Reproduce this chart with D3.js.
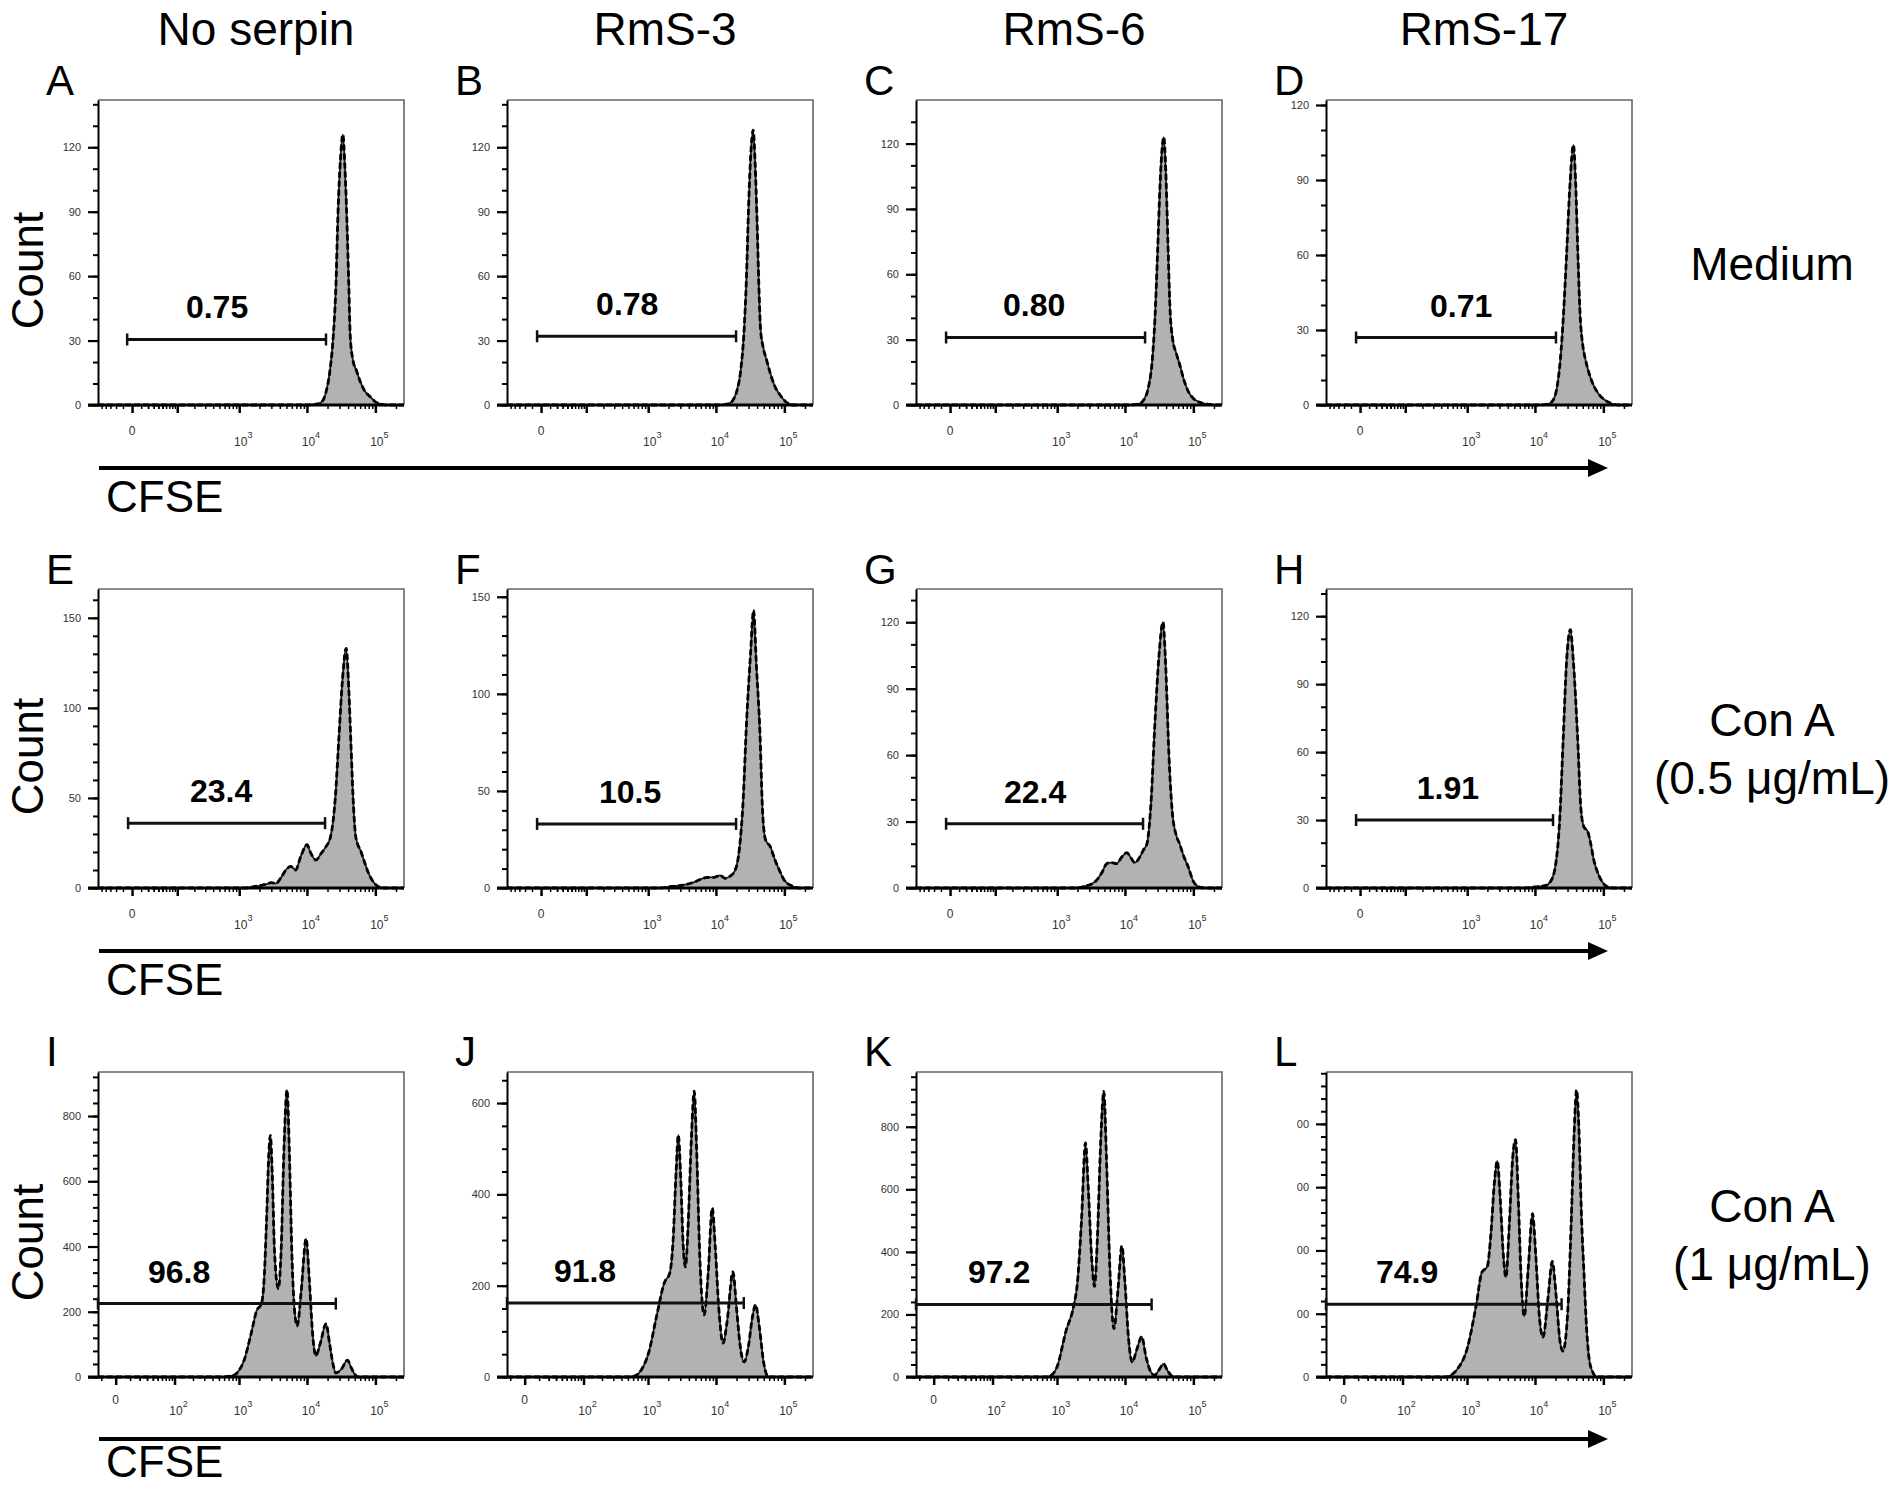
<!DOCTYPE html>
<html>
<head>
<meta charset="utf-8">
<script src="https://cdn.jsdelivr.net/npm/d3@7"></script>
<style>
  body { margin: 0; background: #fff; }
  text { font-family: Arial, 'Liberation Sans', sans-serif; }
</style>
</head>
<body>
<script>
const width = 1903
const height = 1490

// ---- data ----
const columnTitles = ['No serpin', 'RmS-3', 'RmS-6', 'RmS-17']
const rowTitles = [['Medium'], ['Con A', '(0.5 μg/mL)'], ['Con A', '(1 μg/mL)']]
const panelLetters = ['A', 'B', 'C', 'D', 'E', 'F', 'G', 'H', 'I', 'J', 'K', 'L']
const gatePercent = ['0.75', '0.78', '0.80', '0.71', '23.4', '10.5', '22.4', '1.91', '96.8', '91.8', '97.2', '74.9']

// gate range [low, high] on the CFSE axis, its count level, where its label sits (CFSE)
const gateRange = [
    [-5, 1.9e4], [-4, 1.97e4], [-4, 1.97e4], [-4, 2.03e4],
    [-4, 1.84e4], [-4, 1.97e4], [-4, 1.84e4], [-4, 1.84e4],
    [-13, 2.64e4], [-13, 2.55e4], [-13, 2.45e4], [-13, 2.45e4]
]
const gateLevel = [30.5, 32, 31, 27, 36, 33, 29, 30, 225, 162, 232, 230]
const gateLabelAt = [460, 480, 445, 810, 530, 530, 460, 510, 119, 106, 129, 119]

const countMax = [142, 142, 140, 122, 166, 154, 135, 132, 935, 668, 975, 964]
const countTicks = [
    [0, 30, 60, 90, 120], [0, 30, 60, 90, 120], [0, 30, 60, 90, 120], [0, 30, 60, 90, 120],
    [0, 50, 100, 150], [0, 50, 100, 150], [0, 30, 60, 90, 120], [0, 30, 60, 90, 120],
    [0, 200, 400, 600, 800], [0, 200, 400, 600], [0, 200, 400, 600, 800], [0, 200, 400, 600, 800]
]
const countMinorStep = [10, 10, 10, 10, 10, 10, 10, 10, 40, 50, 40, 40]

const cfseMajor = [0, 1e2, 1e3, 1e4, 1e5]
const cfseLabelExp = [[3, 4, 5], [3, 4, 5], [2, 3, 4, 5]]
const cfseMax = 262144

// histograms: [CFSE, count]
const histA = [[-60,0],[1.0e4,0],[1.45e4,0.5],[1.7e4,2],[1.9e4,6],[2.15e4,15],[2.4e4,30],[2.65e4,55],[2.85e4,90],[3.1e4,115],[3.35e4,126],[3.6e4,110],[3.85e4,85],[4.1e4,55],[4.3e4,32],[4.7e4,21],[5.3e4,16],[6.0e4,11],[7.0e4,6.5],[8.3e4,4],[1.0e5,1.5],[1.25e5,0.3],[1.5e5,0],[262144,0]]
const histB = [[-60,0],[1.1e4,0],[1.5e4,0.5],[1.75e4,2],[2.0e4,6],[2.3e4,16],[2.55e4,32],[2.8e4,60],[3.0e4,92],[3.25e4,118],[3.5e4,128],[3.75e4,112],[4.0e4,85],[4.25e4,55],[4.5e4,35],[4.9e4,27],[5.5e4,21],[6.2e4,15],[7.2e4,9],[8.5e4,5],[1.05e5,1.5],[1.35e5,0],[262144,0]]
const histC = [[-60,0],[1.2e4,0],[1.6e4,0.5],[1.9e4,2.5],[2.2e4,8],[2.5e4,20],[2.75e4,40],[3.0e4,70],[3.25e4,100],[3.5e4,118],[3.7e4,123],[3.95e4,108],[4.25e4,75],[4.55e4,45],[5.0e4,30],[5.6e4,24],[6.4e4,18],[7.2e4,12],[8.5e4,6],[1.0e5,3],[1.3e5,1],[1.7e5,0.3],[2.1e5,0],[262144,0]]
const histD = [[-60,0],[1.2e4,0],[1.6e4,0.5],[1.85e4,2],[2.1e4,7],[2.35e4,18],[2.6e4,35],[2.9e4,60],[3.25e4,88],[3.65e4,104],[3.95e4,88],[4.25e4,60],[4.6e4,35],[5.0e4,24],[5.5e4,18],[6.3e4,12],[7.3e4,7.5],[8.5e4,4.5],[1.05e5,2],[1.35e5,0.5],[1.65e5,0],[262144,0]]
const histE = [[-60,0],[1.2e3,0],[1.8e3,1],[2.5e3,2],[3.0e3,3],[3.5e3,2.5],[4.2e3,6],[4.9e3,10],[5.8e3,12],[6.8e3,10],[8.2e3,18],[1.0e4,24],[1.15e4,19],[1.35e4,15.5],[1.6e4,19],[1.9e4,23],[2.2e4,28],[2.6e4,50],[2.95e4,85],[3.3e4,115],[3.75e4,133],[4.1e4,110],[4.4e4,80],[4.8e4,45],[5.2e4,28],[6.2e4,20],[7.0e4,14],[8.0e4,8],[9.5e4,3],[1.15e5,0.5],[1.4e5,0],[262144,0]]
const histF = [[-60,0],[1.5e3,0],[2.2e3,0.8],[3.3e3,1.5],[4.8e3,3],[6.0e3,4.5],[7.5e3,5.5],[9.5e3,5.5],[1.15e4,6.5],[1.35e4,5],[1.6e4,6],[1.9e4,9],[2.2e4,20],[2.5e4,45],[2.8e4,85],[3.2e4,120],[3.55e4,143],[3.9e4,115],[4.4e4,80],[4.8e4,40],[5.3e4,25],[6.3e4,21],[7.2e4,15],[8.5e4,9],[1.0e5,4],[1.3e5,1],[1.7e5,0],[262144,0]]
const histG = [[-60,0],[1.8e3,0],[2.6e3,0.8],[3.7e3,3],[4.6e3,7],[5.4e3,11],[6.3e3,11.5],[7.5e3,11],[9.0e3,14],[1.07e4,16],[1.2e4,14],[1.4e4,11.5],[1.65e4,14],[1.85e4,17],[2.1e4,20],[2.4e4,38],[2.75e4,75],[3.15e4,105],[3.6e4,120],[3.95e4,100],[4.4e4,60],[4.9e4,35],[5.6e4,24],[6.3e4,20],[7.3e4,14],[8.3e4,10],[1.0e5,3],[1.2e5,0.5],[1.45e5,0],[262144,0]]
const histH = [[-60,0],[7e3,0],[1.0e4,0.5],[1.4e4,1],[1.7e4,3],[2.0e4,10],[2.3e4,30],[2.6e4,67],[2.9e4,100],[3.3e4,114],[3.65e4,100],[4.2e4,67],[4.7e4,35],[5.2e4,27],[5.9e4,25],[6.5e4,20],[7.3e4,12],[8.0e4,8],[9.5e4,3],[1.15e5,0.5],[1.4e5,0],[262144,0]]
const histI = [[-13,0],[550,0],[700,2],[850,6],[1000,20],[1220,58],[1400,105],[1540,140],[1820,203],[2150,225],[2350,300],[2550,480],[2750,680],[2900,741],[3100,620],[3350,380],[3800,271],[4200,400],[4600,700],[5100,880],[5500,700],[6000,380],[6600,200],[7200,157],[8200,260],[9700,424],[10800,300],[12000,140],[13500,65],[15500,100],[19000,163],[21500,100],[24000,40],[26500,12],[32000,25],[39000,52],[44000,30],[50000,8],[56000,0],[262144,0]]
const histJ = [[-13,0],[500,0],[650,3],[790,15],[1030,55],[1330,131],[1740,206],[2100,228],[2350,300],[2600,450],[2800,530],[3050,430],[3300,290],[3560,241],[3900,330],[4350,520],[4800,626],[5200,500],[5800,260],[6700,136],[7700,230],[8800,370],[9800,280],[11000,150],[12700,74],[14500,120],[17700,230],[20000,150],[22500,70],[25800,33],[30000,70],[34000,130],[38000,158],[43000,110],[50000,30],[59000,0],[262144,0]]
const histK = [[-13,0],[700,0],[850,8],[1000,32],[1350,145],[1760,226],[2000,300],[2300,500],[2630,748],[2900,600],[3250,380],[3570,290],[3950,450],[4400,750],[4900,913],[5350,700],[6000,350],[6900,155],[7900,280],[9000,419],[10000,300],[11200,130],[12700,48],[15000,90],[17500,129],[20500,60],[24000,15],[27000,6],[32000,25],[36500,42],[42000,20],[48000,4],[55000,0],[262144,0]]
const histL = [[-13,0],[480,0],[600,8],[720,25],[1000,88],[1390,236],[1650,330],[2000,350],[2250,450],[2550,620],[2800,683],[3100,560],[3450,380],[3750,315],[4200,480],[4700,690],[5200,750],[5700,560],[6300,300],[6950,192],[8000,350],[9200,516],[10300,380],[11600,190],[13100,126],[15500,250],[17900,365],[20500,250],[23000,120],[25600,82],[30000,200],[34000,500],[37500,780],[40600,907],[44000,780],[48000,500],[52000,330],[57000,150],[62000,57],[70000,15],[81000,0],[262144,0]]
const histograms = [histA, histB, histC, histD, histE, histF, histG, histH, histI, histJ, histK, histL]

// ---- layout ----
const colX = [98, 507, 916, 1326]
const rowY = [100, 589, 1072]
const rowH = [305, 299, 305]
const boxW = 306
// biexponential-like CFSE axis per row: symlog constant and lower bound
const rowAxis = [{c: 28, min: -60}, {c: 28, min: -60}, {c: 16, min: -13}]

const svg = d3.select('body')
    .append('svg')
    .attr('width', width)
    .attr('height', height)
    .attr('viewBox', `0 0 ${width} ${height}`)

// the last panel's count labels are cut on the left in the original
svg.append('defs').append('clipPath')
    .attr('id', 'clipL')
    .append('rect')
    .attr('x', -29).attr('y', -20).attr('width', 60).attr('height', 360)

// column titles
svg.selectAll('text.col')
    .data(columnTitles)
    .enter()
    .append('text')
    .attr('class', 'col')
    .attr('x', (d, i) => colX[i] + boxW / 2 + 5)
    .attr('y', 45)
    .attr('text-anchor', 'middle')
    .attr('font-size', 46)
    .text(d => d)

// row titles, Count labels, CFSE arrows
rowTitles.forEach((lines, r) => {
    const top = rowY[r]
    const base = r === 0 ? top + 180 : top + 147 + (r === 2 ? 3 : 0)
    lines.forEach((t, k) => {
        svg.append('text')
            .attr('x', 1772)
            .attr('y', base + k * 58)
            .attr('text-anchor', 'middle')
            .attr('font-size', 46)
            .text(t)
    })

    svg.append('text')
        .attr('transform', `translate(43,${top + rowH[r] / 2 + 18}) rotate(-90)`)
        .attr('text-anchor', 'middle')
        .attr('font-size', 44)
        .text('Count')

    const ay = top + rowH[r] + (r === 2 ? 62 : 63)
    svg.append('line')
        .attr('x1', 99).attr('x2', 1592)
        .attr('y1', ay).attr('y2', ay)
        .attr('stroke', '#000')
        .attr('stroke-width', 4)
    svg.append('path')
        .attr('d', `M1588,${ay - 9} L1608,${ay} L1588,${ay + 9} Z`)
        .attr('fill', '#000')
    svg.append('text')
        .attr('x', 106)
        .attr('y', ay + (r === 2 ? 38 : 44))
        .attr('font-size', 44)
        .text('CFSE')
})

histograms.forEach((hist, i) => {
    const r = Math.floor(i / 4)
    const c = i % 4
    const H = rowH[r]
    const g = svg.append('g')
        .attr('transform', `translate(${colX[c]},${rowY[r]})`)

    const x = d3.scaleSymlog()
        .constant(rowAxis[r].c)
        .domain([rowAxis[r].min, cfseMax])
        .range([0, boxW])
    const y = d3.scaleLinear()
        .domain([0, countMax[i]])
        .range([H, 0])

    // panel letter
    g.append('text')
        .attr('x', -52)
        .attr('y', r === 2 ? -6 : -5)
        .attr('font-size', 42)
        .text(panelLetters[i])

    // histogram
    const area = d3.area()
        .x(d => x(d[0]))
        .y0(H)
        .y1(d => y(d[1]))
        .curve(d3.curveMonotoneX)
    const line = d3.line()
        .x(d => x(d[0]))
        .y(d => y(d[1]))
        .curve(d3.curveMonotoneX)

    g.append('path')
        .datum(hist)
        .attr('d', area)
        .attr('fill', '#b2b2b2')
    g.append('path')
        .datum(hist)
        .attr('d', line)
        .attr('fill', 'none')
        .attr('stroke', '#1a1a1a')
        .attr('stroke-width', 1.8)
    g.append('path')
        .datum(hist)
        .attr('d', line)
        .attr('fill', 'none')
        .attr('stroke', '#000')
        .attr('stroke-width', 2.8)
        .attr('stroke-dasharray', '6,3')

    // box top/right
    g.append('path')
        .attr('d', `M0,0 H${boxW} V${H}`)
        .attr('fill', 'none')
        .attr('stroke', '#666')
        .attr('stroke-width', 1.6)

    // y axis
    const minor = d3.range(0, countMax[i], countMinorStep[i])
    g.append('g')
        .call(d3.axisLeft(y).tickValues(minor).tickSize(5).tickFormat(''))
        .call(a => a.select('.domain').remove())
        .selectAll('line').attr('stroke', '#000').attr('stroke-width', 2)
    const yAxis = g.append('g')
        .call(d3.axisLeft(y).tickValues(countTicks[i]).tickSize(10).tickPadding(7).tickSizeOuter(0))
    yAxis.select('.domain').attr('stroke', '#000').attr('stroke-width', 2)
    yAxis.selectAll('line').attr('stroke', '#000').attr('stroke-width', 2.2)
    yAxis.selectAll('text')
        .attr('font-size', 11)
        .attr('font-family', 'Arial, sans-serif')
        .attr('fill', '#333')
    if (i === 11) yAxis.selectAll('.tick text').attr('clip-path', 'url(#clipL)')

    // x axis
    const logMinor = []
    ;[10, 100, 1000, 10000].forEach(p => d3.range(2, 10).forEach(k => logMinor.push(k * p)))
    logMinor.push(2e5)
    const nearZero = d3.range(-50, 51, 10).filter(v => v > rowAxis[r].min && v !== 0)
    const xg = g.append('g').attr('transform', `translate(0,${H})`)
    xg.call(d3.axisBottom(x).tickValues(logMinor.concat(nearZero)).tickSize(4).tickFormat(''))
        .call(a => a.select('.domain').remove())
        .selectAll('line').attr('stroke', '#000').attr('stroke-width', 1.5)
    const xMajor = g.append('g').attr('transform', `translate(0,${H})`)
        .call(d3.axisBottom(x).tickValues(cfseMajor).tickSize(8).tickFormat(''))
    xMajor.select('.domain').remove()
    xMajor.selectAll('line').attr('stroke', '#000').attr('stroke-width', 2.5)
    g.append('line')
        .attr('x1', -10).attr('x2', boxW)
        .attr('y1', H).attr('y2', H)
        .attr('stroke', '#000')
        .attr('stroke-width', 3)

    xg.append('text')
        .attr('x', x(0))
        .attr('y', r === 2 ? 27 : 30)
        .attr('text-anchor', 'middle')
        .attr('font-size', 12)
        .attr('fill', '#333')
        .text('0')
    const lbl = xg.selectAll('text.exp')
        .data(cfseLabelExp[r])
        .enter()
        .append('text')
        .attr('class', 'exp')
        .attr('x', e => x(Math.pow(10, e)) + 4)
        .attr('y', r === 2 ? 38 : 41)
        .attr('text-anchor', 'middle')
        .attr('font-size', 12)
        .attr('fill', '#333')
    lbl.append('tspan').text('10')
    lbl.append('tspan').attr('dy', -8).attr('font-size', 9).text(e => e)

    // gate
    const [lo, hi] = gateRange[i]
    const gy = y(gateLevel[i])
    g.append('line')
        .attr('x1', x(lo)).attr('x2', x(hi))
        .attr('y1', gy).attr('y2', gy)
        .attr('stroke', '#111')
        .attr('stroke-width', 3)
    ;[lo, hi].forEach(v => {
        g.append('line')
            .attr('x1', x(v)).attr('x2', x(v))
            .attr('y1', gy - 6).attr('y2', gy + 6)
            .attr('stroke', '#111')
            .attr('stroke-width', 2.5)
    })
    g.append('text')
        .attr('x', x(gateLabelAt[i]))
        .attr('y', gy - 21)
        .attr('text-anchor', 'middle')
        .attr('font-size', 32)
        .attr('font-weight', 'bold')
        .text(gatePercent[i])
})
</script>
</body>
</html>
